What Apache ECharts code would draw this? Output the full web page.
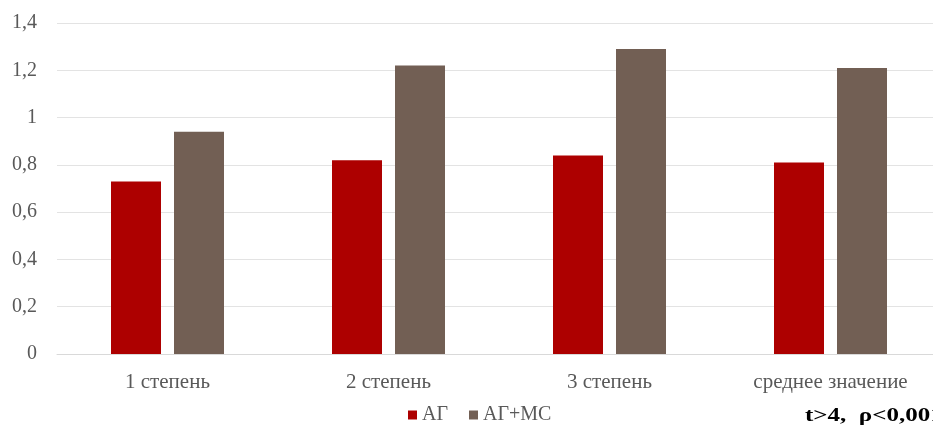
<!DOCTYPE html>
<html>
<head>
<meta charset="utf-8">
<script src="https://cdn.jsdelivr.net/npm/echarts@6/dist/echarts.min.js"></script>
<style>html,body{margin:0;padding:0;background:#fff;overflow:hidden;}#c{width:945px;height:426px;}</style>
</head>
<body>
<div id="c"></div>
<script>
const categories = ['1 степень', '2 степень', '3 степень', 'среднее значение'];
const seriesAG = [0.73, 0.82, 0.84, 0.81];
const seriesAGMS = [0.94, 1.22, 1.29, 1.21];
const seriesNames = ['АГ', 'АГ+МС'];
const noteText = 't>4,  ρ<0,001';

const chart = echarts.init(document.getElementById('c'), null, {renderer: 'canvas'});
const font = '"Liberation Serif", "Times New Roman", serif';
chart.setOption({
  animation: false,
  textStyle: {fontFamily: font},
  grid: {left: 57, right: 4, top: 23, bottom: 72, containLabel: false},
  legend: {
    data: seriesNames,
    left: 403, top: 400,
    itemWidth: 9, itemHeight: 9, itemGap: 21,
    icon: 'rect',
    textStyle: {fontFamily: font, fontSize: 20, color: '#595959'}
  },
  xAxis: {
    type: 'category',
    data: categories,
    axisLine: {lineStyle: {color: '#d9d9d9', width: 1}},
    axisTick: {show: false},
    axisLabel: {fontFamily: font, fontSize: 21, color: '#595959', margin: 18}
  },
  yAxis: {
    type: 'value',
    min: 0, max: 1.4, interval: 0.2,
    axisLine: {show: false},
    axisTick: {show: false},
    splitLine: {lineStyle: {color: '#e3e3e3', width: 1}},
    axisLabel: {
      fontFamily: font, fontSize: 20, color: '#595959', margin: 20,
      formatter: v => String(Math.round(v * 10) / 10).replace('.', ',')
    }
  },
  series: [
    {name: seriesNames[0], type: 'bar', data: seriesAG, barWidth: 50, barGap: '26%',
     itemStyle: {color: '#ad0000'}},
    {name: seriesNames[1], type: 'bar', data: seriesAGMS, barWidth: 50, barGap: '26%',
     itemStyle: {color: '#725f54'}}
  ],
  graphic: [{
    type: 'text', x: 805, y: 407, scaleX: 1.39,
    style: {text: noteText, fontFamily: font, fontSize: 18, fontWeight: 'bold', fill: '#000'}
  }]
});
</script>
</body>
</html>
